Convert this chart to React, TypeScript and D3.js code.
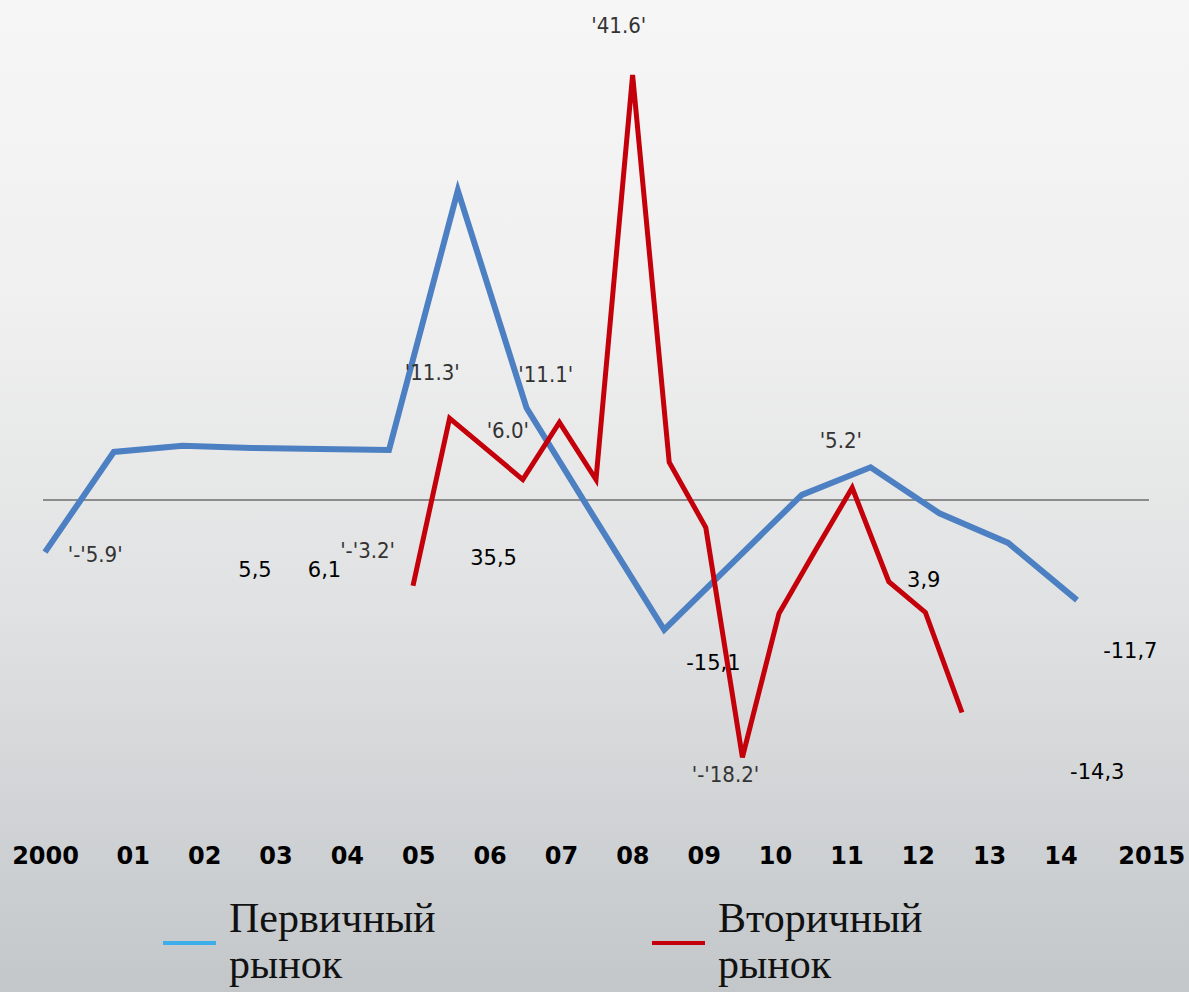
import React from "react";
import * as d3 from "d3";

// Annual change, %, primary housing market (2000–2015)
const primaryYears = d3.range(2000, 2016);
const primaryValues = [-5.1, 4.7, 5.3, 5.1, 5.0, 4.9, 30.3, 9.0, -1.9, -12.7, -6.1, 0.5, 3.2, -1.3, -4.2, -9.8];

// Secondary market, sixteen consecutive periods
const secondaryPeriods = d3.range(0, 16);
const secondaryValues = [-8.4, 8.0, 5.0, 2.0, 7.6, 2.0, 41.6, 3.7, -2.7, -25.2, -11.1, -4.9, 1.2, -8.0, -11.0, -20.8];

// Axis captions
const tickYears = d3.range(2000, 2016);
const tickText = ["2000", "01", "02", "03", "04", "05", "06", "07", "08", "09", "10", "11", "12", "13", "14", "2015"];

// Value captions placed on the chart (year, value)
const quotedNotes = [
  { text: "'-'5.9'", year: 2000.33, value: -6.1 },
  { text: "'-'3.2'", year: 2004.29, value: -5.7 },
  { text: "'11.3'", year: 2005.23, value: 11.75 },
  { text: "'11.1'", year: 2006.88, value: 11.55 },
  { text: "'6.0'", year: 2006.42, value: 6.1 },
  { text: "'41.6'", year: 2007.94, value: 45.7 },
  { text: "'5.2'", year: 2011.26, value: 5.1 },
  { text: "'-'18.2'", year: 2009.4, value: -27.6 },
];
const plainNotes = [
  { text: "5,5", year: 2002.81, value: -7.55 },
  { text: "6,1", year: 2003.82, value: -7.55 },
  { text: "35,5", year: 2006.18, value: -6.4 },
  { text: "3,9", year: 2012.53, value: -8.5 },
  { text: "-15,1", year: 2009.32, value: -16.65 },
  { text: "-11,7", year: 2015.38, value: -15.5 },
  { text: "-14,3", year: 2014.9, value: -27.35 },
];

const legendItems = [
  { lines: ["Первичный", "рынок"], color: "#3daeea" },
  { lines: ["Вторичный", "рынок"], color: "#c4000a" },
];

const W = 1189;
const H = 992;

export default function App() {
  const y = d3.scaleLinear().domain([0, 41.6]).range([500, 75]);
  const xPrimary = d3.scaleLinear().domain([2000, 2015]).range([45, 1077]);
  const xSecondary = d3.scaleLinear().domain([0, 15]).range([413, 962]);
  const xTick = d3.scaleLinear().domain([2001, 2014]).range([133.3, 1061]);

  const primaryLine = d3
    .line<number>()
    .x((_, i) => xPrimary(primaryYears[i]))
    .y((d) => y(d));
  const secondaryLine = d3
    .line<number>()
    .x((_, i) => xSecondary(secondaryPeriods[i]))
    .y((d) => y(d));

  const tickX = (yr: number, i: number) => {
    if (i === 0) return { x: xTick(yr) + 17, anchor: "end" };
    if (i === tickYears.length - 1) return { x: xTick(yr) - 14, anchor: "start" };
    return { x: xTick(yr), anchor: "middle" };
  };

  return (
    <svg
      width={W}
      height={H}
      style={{ position: "absolute", left: 0, top: 0, display: "block" }}
    >
      <defs>
        <linearGradient id="bg" x1="0" y1="0" x2="0" y2="1">
          <stop offset="0" stopColor="#f6f6f6" />
          <stop offset="0.3" stopColor="#f0f0f0" />
          <stop offset="0.62" stopColor="#e0e1e2" />
          <stop offset="1" stopColor="#c3c7ca" />
        </linearGradient>
      </defs>
      <rect x={0} y={0} width={W} height={H} fill="url(#bg)" />

      {/* zero line */}
      <line x1={43} x2={1149} y1={y(0)} y2={y(0)} stroke="#8c8c8c" strokeWidth={2} />

      <path
        d={primaryLine(primaryValues) ?? ""}
        fill="none"
        stroke="#4c80c2"
        strokeWidth={6}
        strokeLinejoin="miter"
      />
      <path
        d={secondaryLine(secondaryValues) ?? ""}
        fill="none"
        stroke="#c4000a"
        strokeWidth={5}
        strokeLinejoin="miter"
      />

      {quotedNotes.map((n) => (
        <text
          key={n.text + n.year}
          x={xPrimary(n.year)}
          y={y(n.value)}
          fontFamily="'DejaVu Sans Condensed', 'Liberation Sans', sans-serif"
          fontSize={22}
          fill="#333"
        >
          {n.text}
        </text>
      ))}
      {plainNotes.map((n) => (
        <text
          key={n.text + n.year}
          x={xPrimary(n.year)}
          y={y(n.value)}
          fontFamily="'DejaVu Sans', sans-serif"
          fontSize={21}
          fill="#000"
        >
          {n.text}
        </text>
      ))}

      {tickYears.map((yr, i) => {
        const p = tickX(yr, i);
        return (
          <text
            key={yr}
            x={p.x}
            y={864}
            textAnchor={p.anchor as any}
            fontFamily="'DejaVu Sans', sans-serif"
            fontWeight="bold"
            fontSize={24}
            fill="#000"
          >
            {tickText[i]}
          </text>
        );
      })}

      {legendItems.map((item, i) => {
        const x0 = 163 + i * 489;
        return (
          <g key={item.lines[0]}>
            <line x1={x0} x2={x0 + 53} y1={943} y2={943} stroke={item.color} strokeWidth={4} />
            {item.lines.map((t, j) => (
              <text
                key={t}
                x={x0 + 66}
                y={932 + j * 46}
                fontFamily="'Liberation Serif', 'Times New Roman', serif"
                fontSize={42}
                fill="#111"
              >
                {t}
              </text>
            ))}
          </g>
        );
      })}
    </svg>
  );
}
